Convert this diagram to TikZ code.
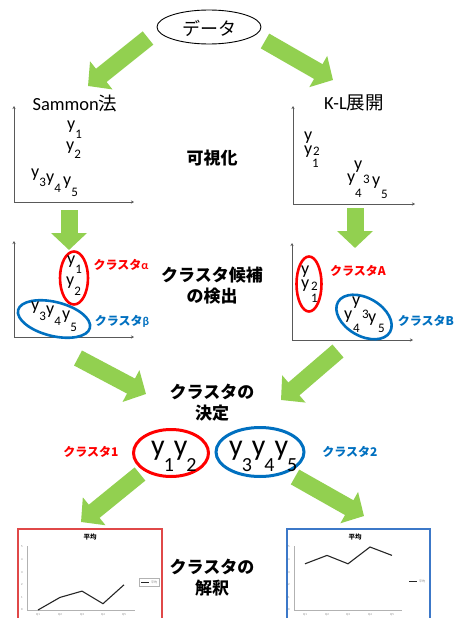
\documentclass[tikz,border=0pt]{standalone}
\usepackage{fontspec}
\setmainfont{Carlito}
\newfontfamily\cjk{Noto Sans CJK JP}
\usetikzlibrary{arrows.meta,shapes.geometric}
\definecolor{ggreen}{HTML}{92D050}
\definecolor{cred}{HTML}{FF0000}
\definecolor{cblue}{HTML}{0070C0}
\definecolor{axgray}{HTML}{595959}
\definecolor{chred}{HTML}{E04848}
\definecolor{chblue}{HTML}{3C78C8}
\newcommand\ysub[2][9pt]{y\raisebox{-#1}{\fontsize{13}{13}\selectfont #2}}
\newcommand\ybig[1]{y\kern-1pt\raisebox{-16pt}{\fontsize{20}{20}\selectfont #1}}
\tikzset{
  garrow/.style={draw=ggreen, line width=17pt, -{Triangle[length=17pt,width=35pt]}},
  axisline/.style={draw=axgray, line width=0.9pt, {Stealth[length=3pt,width=3pt]}-{Stealth[length=3pt,width=3pt]}},
  ylab/.style={anchor=base west, inner sep=0pt, font=\fontsize{18}{18}\selectfont},
  dig/.style={anchor=base west, inner sep=0pt, font=\fontsize{13}{13}\selectfont},
  title/.style={inner sep=0pt, align=center, font=\cjk\bfseries\fontsize{17}{21}\selectfont},
  method/.style={inner sep=0pt, font=\fontsize{18.5}{18.5}\selectfont},
  clab/.style={inner sep=0pt, font=\cjk\bfseries\fontsize{12}{12}\selectfont},
  chtxt/.style={inner sep=0pt, text=gray, font=\fontsize{3}{3}\selectfont},
}
\begin{document}
\begin{tikzpicture}[x=1pt,y=-1pt]
\useasboundingbox[fill=white] (0,0) rectangle (454,618);

% data
\node[draw, ellipse, line width=0.9pt, minimum width=104pt, minimum height=34pt, inner sep=0pt] (data) at (209,27) {};
\node[inner sep=0pt, font=\cjk\fontsize{18}{18}\selectfont] (datat) at (209,28) {データ};

% green arrows
\coordinate (a1s) at (148,38);  \coordinate (a1e) at (88,86);
\coordinate (a2s) at (265,41);  \coordinate (a2e) at (333,80);
\coordinate (a3s) at (69,210);  \coordinate (a3e) at (69,250);
\coordinate (a4s) at (355,208); \coordinate (a4e) at (355,248);
\coordinate (a5s) at (78,358);  \coordinate (a5e) at (146,394);
\coordinate (a6s) at (338,351); \coordinate (a6e) at (281,400);
\coordinate (a7s) at (140,474); \coordinate (a7e) at (81,522);
\coordinate (a8s) at (295,477); \coordinate (a8e) at (364,516);
\foreach \i in {1,...,8} { \draw[garrow] (a\i s) -- (a\i e); }

% method labels
\node[method] (sam) at (75,103) {Sammon{\cjk 法}};
\node[method] (kl) at (354,103) {K-L{\cjk 展開}};

% plot 1 (Sammon)
\coordinate (p1t) at (14,106); \coordinate (p1r) at (134,202);
\draw[axisline] (p1t) |- (p1r);
\node[ylab] (s1) at (67,129) {\ysub[9pt]{1}};
\node[ylab] (s2) at (66,150) {\ysub[8pt]{2}};
\node[ylab] (s3) at (31,177) {\ysub[9pt]{3}};
\node[ylab] (s4) at (46,182) {\ysub[10pt]{4}};
\node[ylab] (s5) at (63,185) {\ysub[11pt]{5}};

% plot 2 (K-L)
\coordinate (p2t) at (293,106); \coordinate (p2r) at (415,204);
\draw[axisline] (p2t) |- (p2r);
\node[ylab] (k1) at (304,140) {y};
\node[ylab] (k2) at (304,154) {y};
\node[dig] (k2s) at (313,155) {2};
\node[dig] (k1s) at (312,167) {1};
\node[ylab] (k3) at (354,169) {y};
\node[dig] (k3s) at (363,183) {3};
\node[ylab] (k4) at (347,182) {y};
\node[dig] (k4s) at (355,197) {4};
\node[ylab] (k5) at (372,185) {y};
\node[dig] (k5s) at (381,198) {5};

% visualise
\node[title] (vis) at (212,158) {可視化};

% plot 3
\coordinate (p3t) at (14,241); \coordinate (p3r) at (134,337);
\draw[axisline] (p3t) |- (p3r);
\node[draw=cred, line width=2.6pt, ellipse, minimum width=28pt, minimum height=53pt, inner sep=0pt] (ca) at (74,278) {};
\node[draw=cblue, line width=2.6pt, ellipse, minimum width=74pt, minimum height=34pt, inner sep=0pt, rotate=-14] (cb) at (54,319) {};
\node[ylab] (t1) at (67,264) {\ysub[9pt]{1}};
\node[ylab] (t2) at (66,285) {\ysub[10pt]{2}};
\node[ylab] (t3) at (31,310) {\ysub[10pt]{3}};
\node[ylab] (t4) at (46,314) {\ysub[11pt]{4}};
\node[ylab] (t5) at (62,319) {\ysub[12pt]{5}};
\node[clab, text=cred] (lalpha) at (121,265) {クラスタ{\fontspec{Carlito}\bfseries α}};
\node[clab, text=cblue] (lbeta) at (122,321) {クラスタ{\fontspec{Carlito}\bfseries β}};

% plot 4
\coordinate (p4t) at (292,243); \coordinate (p4r) at (413,340);
\draw[axisline] (p4t) |- (p4r);
\node[draw=cred, line width=2.6pt, ellipse, minimum width=25pt, minimum height=55pt, inner sep=0pt] (cA) at (309,284) {};
\node[draw=cblue, line width=2.6pt, ellipse, minimum width=60pt, minimum height=38pt, inner sep=0pt, rotate=-30] (cB) at (364,317) {};
\node[ylab] (u1) at (301,274) {y};
\node[ylab] (u2) at (301,288) {y};
\node[dig] (u2s) at (311,290) {2};
\node[dig] (u1s) at (311,302) {1};
\node[ylab] (u3) at (352,305) {y};
\node[dig] (u3s) at (362,318) {3};
\node[ylab] (u4) at (344,319) {y};
\node[dig] (u4s) at (353,332) {4};
\node[ylab] (u5) at (368,322) {y};
\node[dig] (u5s) at (378,332) {5};
\node[clab, text=cred] (lA) at (358,271) {クラスタA};
\node[clab, text=cblue] (lB) at (426,321) {クラスタB};

\node[title] (cand) at (212,286) {クラスタ候補\\の検出};

% decision
\node[title] (dec) at (212,403) {クラスタの\\決定};
\node[draw=cred, line width=3pt, ellipse, minimum width=75pt, minimum height=47pt, inner sep=0pt] (c1) at (171,453) {};
\node[draw=cblue, line width=3pt, ellipse, minimum width=88pt, minimum height=49pt, inner sep=0pt] (c2) at (260,452) {};
\node[anchor=base west, inner sep=0pt, font=\fontsize{30}{30}\selectfont] (b1) at (151,455) {\ybig{1}\ybig{2}};
\node[anchor=base west, inner sep=0pt, font=\fontsize{30}{30}\selectfont] (b2) at (229,455) {\ybig{3}\ybig{4}\ybig{5}};
\node[clab, text=cred] (l1) at (91,452) {クラスタ1};
\node[clab, text=cblue] (l2) at (350,452) {クラスタ2};

% interpretation
\node[title] (interp) at (212,578) {クラスタの\\解釈};

% left chart
\draw[chred, line width=1.3pt] (18,529) rectangle (162,640);
\node[inner sep=0pt, font=\cjk\bfseries\fontsize{6.5}{6.5}\selectfont] (lct) at (90,537) {平均};
\draw[gray!60, line width=0.4pt] (27,546) -- (27,610) -- (135,610);
\foreach \v in {0,...,5} { \node[chtxt] (lyl\v) at (22,610-12.6*\v) {\v}; }
\foreach \q/\x in {1/38,2/60,3/82,4/103,5/124} { \node[chtxt] (lq\q) at (\x,615) {Q\q}; }
\draw[black!85, line width=1.1pt] (38,610) -- (60,597.4) -- (82,591.1) -- (103,603.7) -- (124,584.8);
\draw[gray!60, line width=0.4pt] (139,578) rectangle (159,586);
\draw[black!85, line width=0.9pt] (141,582) -- (149,582);
\node[chtxt, font=\cjk\fontsize{3}{3}\selectfont] (lleg) at (154,582) {平均};

% right chart
\draw[chblue, line width=1.3pt] (287,529) rectangle (430,640);
\node[inner sep=0pt, font=\cjk\bfseries\fontsize{6.5}{6.5}\selectfont] (rct) at (355,537) {平均};
\draw[gray!60, line width=0.4pt] (294,546) -- (294,610) -- (402,610);
\foreach \v in {0,...,5} { \node[chtxt] (ryl\v) at (289,610-12.6*\v) {\v}; }
\foreach \q/\x in {1/305,2/327,3/348,4/370,5/392} { \node[chtxt] (rq\q) at (\x,615) {Q\q}; }
\draw[black!85, line width=1.1pt] (305,563.8) -- (327,555.4) -- (348,563.8) -- (370,547) -- (392,555.4);
\draw[black!85, line width=0.9pt] (409,581) -- (417,581);
\node[chtxt, font=\cjk\fontsize{3}{3}\selectfont] (rleg) at (422,581) {平均};
\end{tikzpicture}
\end{document}
